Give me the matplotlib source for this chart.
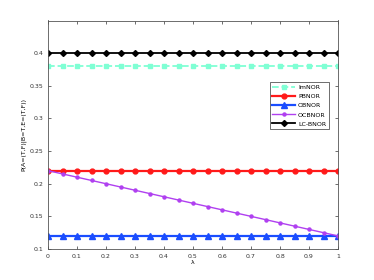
import matplotlib
matplotlib.use("Agg")
import matplotlib.pyplot as plt
import numpy as np

# lambda values, markers every 0.05
lam = np.round(np.arange(0, 1.0001, 0.05), 2)

imnor = [0.38] * len(lam)
pbnor = [0.22] * len(lam)
obnor = [0.12] * len(lam)
ocbnor = [0.22, 0.215, 0.21, 0.205, 0.20, 0.195, 0.19, 0.185, 0.18, 0.175, 0.17,
          0.165, 0.16, 0.155, 0.15, 0.145, 0.14, 0.135, 0.13, 0.125, 0.12]
lcbnor = [0.40] * len(lam)

xticks = [0, 0.1, 0.2, 0.3, 0.4, 0.5, 0.6, 0.7, 0.8, 0.9, 1]
yticks = [0.1, 0.15, 0.2, 0.25, 0.3, 0.35, 0.4]

plt.rcParams['font.family'] = ['DejaVu Sans']
fig = plt.figure(figsize=(3.74, 2.8), dpi=100)
ax = fig.add_axes([48/374, 1 - 249/280, 290/374, 228.5/280])

ax.plot(lam, imnor, '--s', color='#7fffd4', lw=1.3, ms=3.2, label='ImNOR')
ax.plot(lam, pbnor, '-o', color='#ff1a1a', lw=1.6, ms=3.5, label='PBNOR')
ax.plot(lam, obnor, '-^', color='#1a4dff', lw=1.6, ms=3.8, label='OBNOR')
ax.plot(lam, ocbnor, '-o', color='#b040f0', lw=1.0, ms=2.2, label='OCBNOR')
ax.plot(lam, lcbnor, '-D', color='black', lw=1.3, ms=3.0, label='LC-BNOR')

ax.set_xlim(0, 1)
ax.set_ylim(0.1, 0.45)
ax.set_xticks(xticks)
ax.set_xticklabels([str(t) for t in xticks])
ax.set_yticks(yticks)
ax.set_yticklabels([str(t) for t in yticks])
ax.tick_params(labelsize=4.5, direction='in', length=2, width=0.5, colors='#333333',
               top=True, right=True)
for s in ax.spines.values():
    s.set_linewidth(0.6)
    s.set_color('#555555')

ax.set_xlabel('λ', fontsize=4.5, labelpad=1)
ax.set_ylabel('P(A=(T,F)|B=T,E=(T,F))', fontsize=4.5, labelpad=2)

leg = ax.legend(loc='upper right', bbox_to_anchor=(0.969, 0.731), fontsize=4.5,
                frameon=True, fancybox=False, edgecolor='black',
                handlelength=3.6, handletextpad=0.5, borderpad=0.45,
                labelspacing=0.6, borderaxespad=0)
leg.get_frame().set_linewidth(0.5)

fig.savefig('out.png', dpi=100)
